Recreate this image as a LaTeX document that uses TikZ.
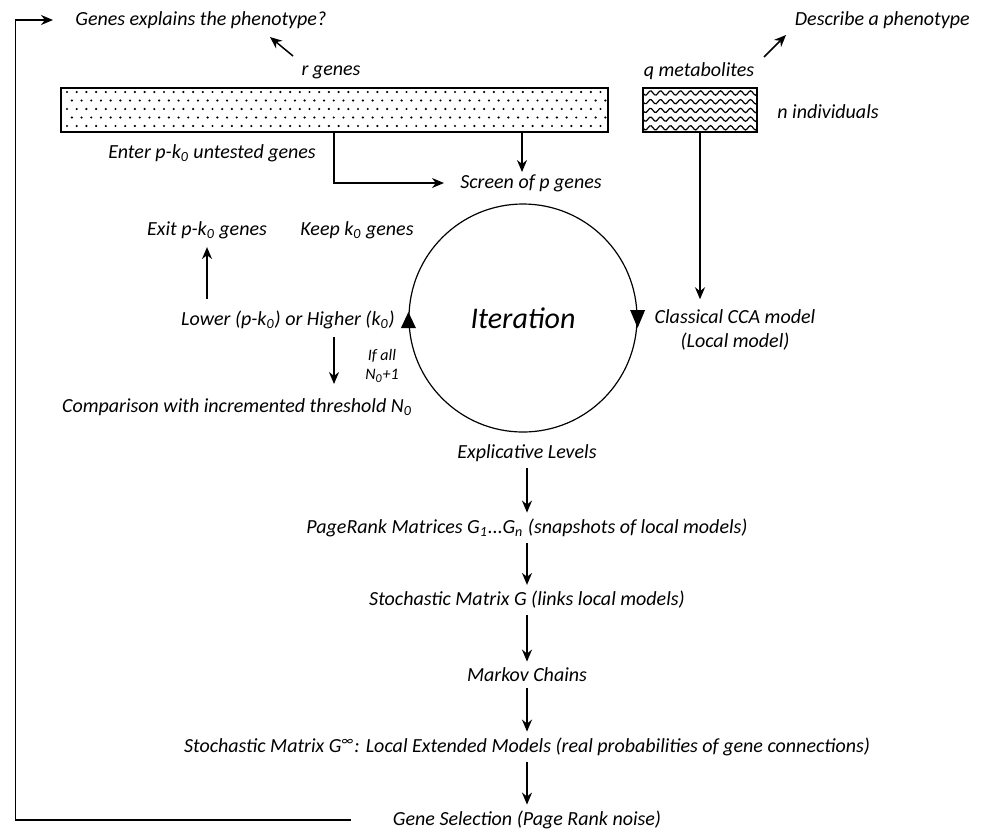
\documentclass[tikz,border=0pt]{standalone}
\usepackage{fontspec}
\setmainfont{Carlito}
\usetikzlibrary{arrows.meta}

\tikzset{
  lbl/.style={font=\itshape, inner sep=1pt, align=center},
  arr/.style={-{Stealth[length=6pt,width=5pt]}, line width=0.75pt},
  blk/.style={draw, line width=0.7pt, minimum height=22pt, inner sep=0pt}
}

\begin{document}
\begin{tikzpicture}[x=0.5pt,y=-0.5pt]
  \useasboundingbox (0,0) rectangle (984,831);

  % data blocks
  \node[blk, minimum width=273.5pt] (genes) at (334.5,110) {};
  \node[blk, minimum width=57pt] (metab) at (700,110) {};
  \foreach \i in {0,...,55}
    \foreach \j in {0,...,4}
      \fill ({67+9.7*\i+4.85*mod(\j,2)}, {92+8.5*\j}) circle (0.6pt);
  \begin{scope}
    \clip (metab.south west) rectangle (metab.north east);
    \foreach \j in {0,...,4}
      \draw[line width=0.6pt] plot[domain=0:114, samples=70, smooth] ({643+\x}, {93+8.7*\j+2.2*sin(36*\x)});
  \end{scope}

  % labels round the blocks
  \node[lbl, anchor=west] (quest) at (73,20) {Genes explains the phenotype?};
  \node[lbl, anchor=east] (desc) at (972,20) {Describe a phenotype};
  \node[lbl] (rgen) at (331,72) {r genes};
  \node[lbl] (qmet) at (699,71) {q metabolites};
  \node[lbl, anchor=west] (nind) at (775,112) {n individuals};
  \node[lbl] (enter) at (212,153) {Enter p-k\textsubscript{0} untested genes};
  \node[lbl] (screen) at (531,183) {Screen of p genes};

  % iteration
  \node[circle, draw, line width=0.6pt, minimum size=114pt, font=\itshape\fontsize{15}{18}\selectfont] (iter) at (523,318) {Iteration};
  \fill (iter.west) ++(-7.5,10) -- ++(15,0) -- ++(-7.5,-16) -- cycle;
  \fill (iter.east) ++(-7.5,-8) -- ++(15,0) -- ++(-7.5,18) -- cycle;

  \node[lbl] (exit) at (207,230) {Exit p-k\textsubscript{0} genes};
  \node[lbl] (keep) at (357,230) {Keep k\textsubscript{0} genes};
  \node[lbl] (lower) at (288,320) {Lower (p-k\textsubscript{0}) or Higher (k\textsubscript{0})};
  \node[lbl, font=\itshape\footnotesize] (ifall) at (382,366) {If all\\N\textsubscript{0}+1};
  \node[lbl] (comp) at (237,407) {Comparison with incremented threshold N\textsubscript{0}};
  \node[lbl, inner sep=5pt] (cca) at (735,330) {Classical CCA model\\(Local model)};

  % chain below the circle
  \node[lbl, inner sep=3pt] (expl) at (527,453) {Explicative Levels};
  \node[lbl, inner sep=3pt] (prank) at (527,528) {PageRank Matrices G\textsubscript{1}...G\textsubscript{n} (snapshots of local models)};
  \node[lbl, inner sep=3pt] (stoch) at (527,600) {Stochastic Matrix G (links local models)};
  \node[lbl, inner sep=3pt] (markov) at (527,675) {Markov Chains};
  \node[lbl, inner sep=3pt] (stinf) at (527,747) {Stochastic Matrix G\textsuperscript{∞}: Local Extended Models (real probabilities of gene connections)};
  \node[lbl, inner sep=3pt] (gsel) at (527,820) {Gene Selection (Page Rank noise)};

  \coordinate (rtail) at (293,56);
  \coordinate (qtail) at (764,57);
  \coordinate (enterpt) at (334,132);
  \coordinate (downpt) at (334,337);

  \draw[arr] (rtail) -- ++(-23,-19);
  \draw[arr] (qtail) -- ++(22,-22);
  \draw[arr] (genes.south -| 522,0) -- (screen.north -| 522,0);
  \draw[arr] (enterpt) |- ([xshift=-7pt]screen.west);
  \draw[arr] (metab.south) -- (metab.south |- cca.north);
  \draw[arr, shorten <=5pt, shorten >=3pt] (lower.north -| exit.south) -- (exit.south);
  \draw[arr, shorten >=6pt] (downpt) -- (downpt |- comp.north);
  \foreach \a/\b in {expl/prank, prank/stoch, stoch/markov, markov/stinf, stinf/gsel}
    \draw[arr] (\a.south) -- (\b.north);
  \draw[arr] ([xshift=-18pt]gsel.west) -- ++(-335,0) |- ([xshift=-10pt]quest.west);
\end{tikzpicture}
\end{document}
